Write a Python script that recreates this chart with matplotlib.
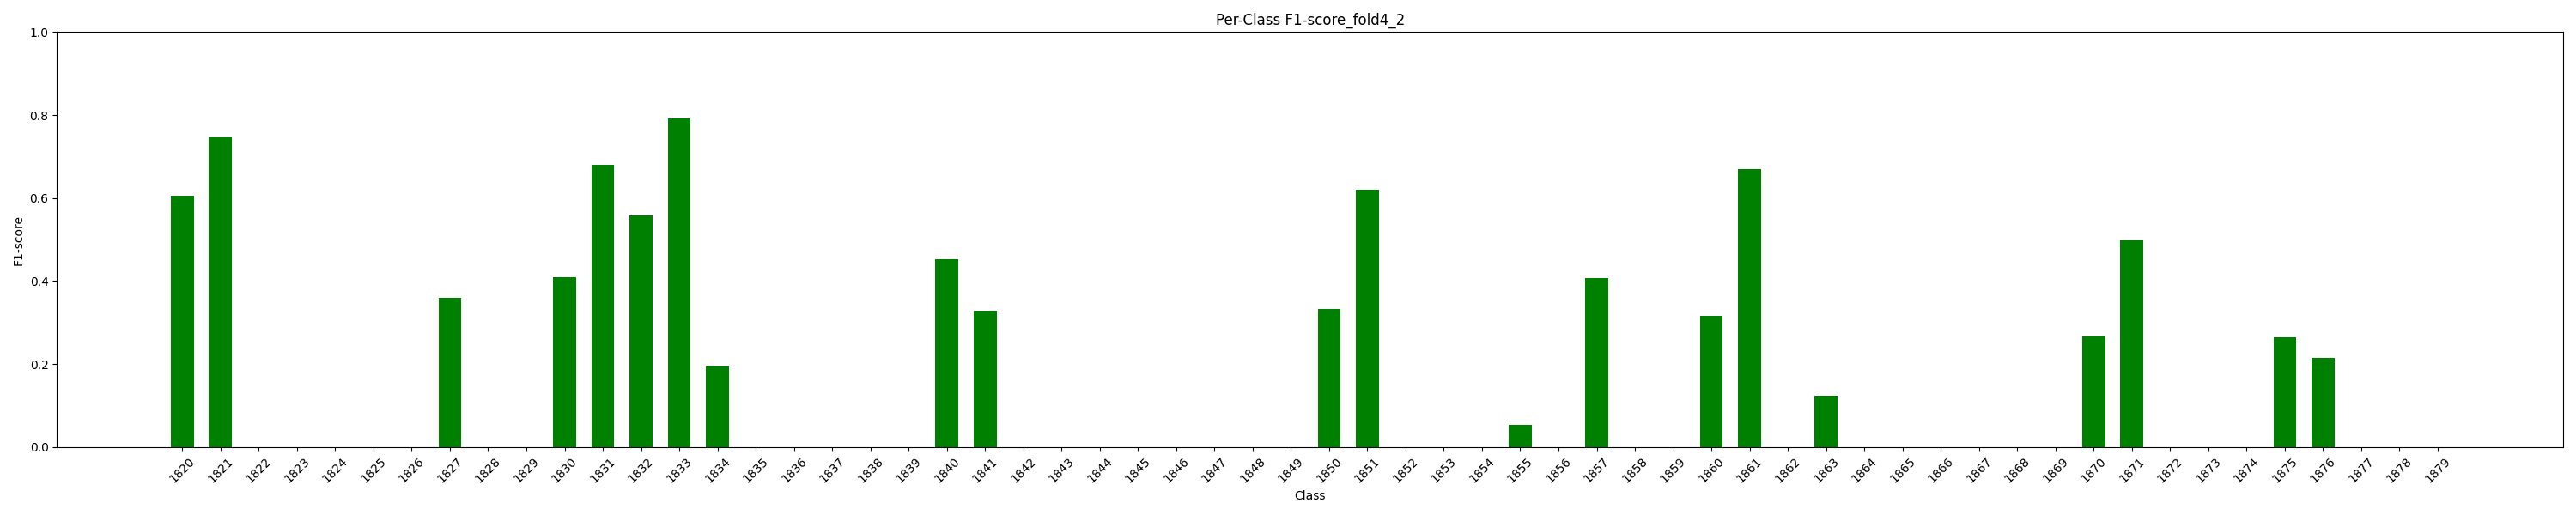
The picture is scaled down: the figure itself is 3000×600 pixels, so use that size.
import matplotlib
matplotlib.use("Agg")
import matplotlib.pyplot as plt
import numpy as np

classes = [str(y) for y in range(1820, 1880)]
f1_nonzero = {
    "1820": 0.605, "1821": 0.747, "1827": 0.360, "1830": 0.410, "1831": 0.681,
    "1832": 0.559, "1833": 0.791, "1834": 0.195, "1840": 0.453, "1841": 0.329,
    "1850": 0.333, "1851": 0.621, "1855": 0.054, "1857": 0.406, "1860": 0.315,
    "1861": 0.669, "1863": 0.124, "1870": 0.267, "1871": 0.499, "1875": 0.265,
    "1876": 0.215,
}
f1_scores = [f1_nonzero.get(c, 0.0) for c in classes]

fig, ax = plt.subplots(figsize=(30, 6), dpi=100)
x = np.arange(len(classes))
ax.bar(x, f1_scores, width=0.6, color="green")
ax.set_xticks(x)
ax.set_xticklabels(classes, rotation=45)
ax.set_ylim(0, 1.0)
ax.set_xlabel("Class")
ax.set_ylabel("F1-score")
ax.set_title("Per-Class F1-score_fold4_2")
fig.tight_layout()
fig.savefig("out.png")
